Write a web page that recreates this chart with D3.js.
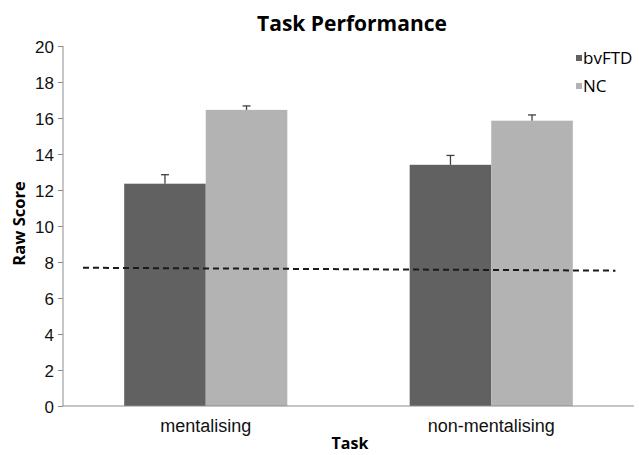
<!DOCTYPE html>
<html>
<head>
<meta charset="utf-8">
<script src="https://cdn.jsdelivr.net/npm/d3@7/dist/d3.min.js"></script>
<style>
  body { margin: 0; background: #fff; }
  svg { display: block; font-family: "Open Sans", sans-serif; }
  .axis path, .axis line { stroke: #8c8c8c; }
  .axis text { fill: #111; }
</style>
</head>
<body>
<svg width="639" height="455"></svg>
<script>
// chart values
const tasks = ["mentalising", "non-mentalising"];
const groups = ["bvFTD", "NC"];
const bvFTD = [12.35, 13.4];
const NC = [16.45, 15.85];
const bvFTDErr = [0.5, 0.52];
const NCErr = [0.22, 0.32];
const yTicks = [0, 2, 4, 6, 8, 10, 12, 14, 16, 18, 20];
// dashed cutoff line, x given in task-index units (0 = mentalising centre)
const cutoffPos = [-0.43, 1.435];
const cutoffVal = [7.68, 7.52];

const colours = {bvFTD: "#616161", NC: "#b3b3b3"};

const svg = d3.select("svg");
const plotLeft = 63, plotRight = 634, plotTop = 46, plotBottom = 406;

const x0 = d3.scaleBand().domain(tasks).range([plotLeft, plotRight]).padding(0);
const step = x0.bandwidth();
// excel style gap width 150%: group = 2 bars out of 3.5
const x1 = d3.scaleBand().domain(groups)
    .range([step * 0.75 / 3.5, step * 2.75 / 3.5]).padding(0);
const y = d3.scaleLinear().domain([0, 20]).range([plotBottom, plotTop]);
const xi = d3.scaleLinear().domain([0, 1])
    .range([x0(tasks[0]) + step / 2, x0(tasks[1]) + step / 2]);

const rows = [];
tasks.forEach((t, i) => {
    rows.push({task: t, group: "bvFTD", value: bvFTD[i], err: bvFTDErr[i]});
    rows.push({task: t, group: "NC", value: NC[i], err: NCErr[i]});
});

// bars
svg.append("g").selectAll("rect")
    .data(rows).enter()
    .append("rect")
    .attr("x", d => x0(d.task) + x1(d.group))
    .attr("y", d => y(d.value))
    .attr("width", x1.bandwidth())
    .attr("height", d => y(0) - y(d.value))
    .style("fill", d => colours[d.group]);

// error bars (upper only)
const eb = svg.append("g").attr("stroke", "#404040").attr("stroke-width", 1.3);
rows.forEach(d => {
    const cx = x0(d.task) + x1(d.group) + x1.bandwidth() / 2;
    eb.append("line").attr("x1", cx).attr("x2", cx)
        .attr("y1", y(d.value)).attr("y2", y(d.value + d.err));
    eb.append("line").attr("x1", cx - 4).attr("x2", cx + 4)
        .attr("y1", y(d.value + d.err)).attr("y2", y(d.value + d.err));
});

// y axis
const yAxis = svg.append("g").attr("class", "axis")
    .attr("transform", "translate(" + plotLeft + ",0)")
    .call(d3.axisLeft(y).tickValues(yTicks).tickSize(5).tickPadding(4));
yAxis.select(".domain").attr("d", "M0," + plotTop + "V" + plotBottom);
yAxis.selectAll("text").attr("dy", "0.36em").style("font-size", "17px");

// x axis
const xAxis = svg.append("g").attr("class", "axis")
    .attr("transform", "translate(0," + plotBottom + ")")
    .call(d3.axisBottom(x0).tickSize(0).tickPadding(13));
xAxis.select(".domain").attr("d", "M" + plotLeft + ",0H" + plotRight);
xAxis.selectAll("text").style("font-size", "18px");

// cutoff dashed line
svg.append("line")
    .attr("x1", xi(cutoffPos[0])).attr("y1", y(cutoffVal[0]))
    .attr("x2", xi(cutoffPos[1])).attr("y2", y(cutoffVal[1]))
    .attr("stroke", "#1a1a1a")
    .attr("stroke-width", 2)
    .attr("stroke-dasharray", "6,4");

// title
svg.append("text")
    .attr("x", 352).attr("y", 31)
    .attr("text-anchor", "middle")
    .style("font-weight", "bold").style("font-size", "21px")
    .text("Task Performance");

// axis titles
svg.append("text")
    .attr("transform", "translate(25,223.5) rotate(-90)")
    .attr("text-anchor", "middle")
    .style("font-weight", "bold").style("font-size", "16.5px")
    .text("Raw Score");
svg.append("text")
    .attr("x", 350).attr("y", 449)
    .attr("text-anchor", "middle")
    .style("font-weight", "bold").style("font-size", "16px")
    .text("Task");

// legend
const legend = svg.append("g");
groups.forEach((g, i) => {
    legend.append("rect")
        .attr("x", 576).attr("y", 55 + i * 28)
        .attr("width", 6).attr("height", 6)
        .style("fill", colours[g]);
    legend.append("text")
        .attr("x", 583).attr("y", 58 + i * 28)
        .attr("dy", "0.36em")
        .style("font-size", "17px")
        .text(g);
});
</script>
</body>
</html>
